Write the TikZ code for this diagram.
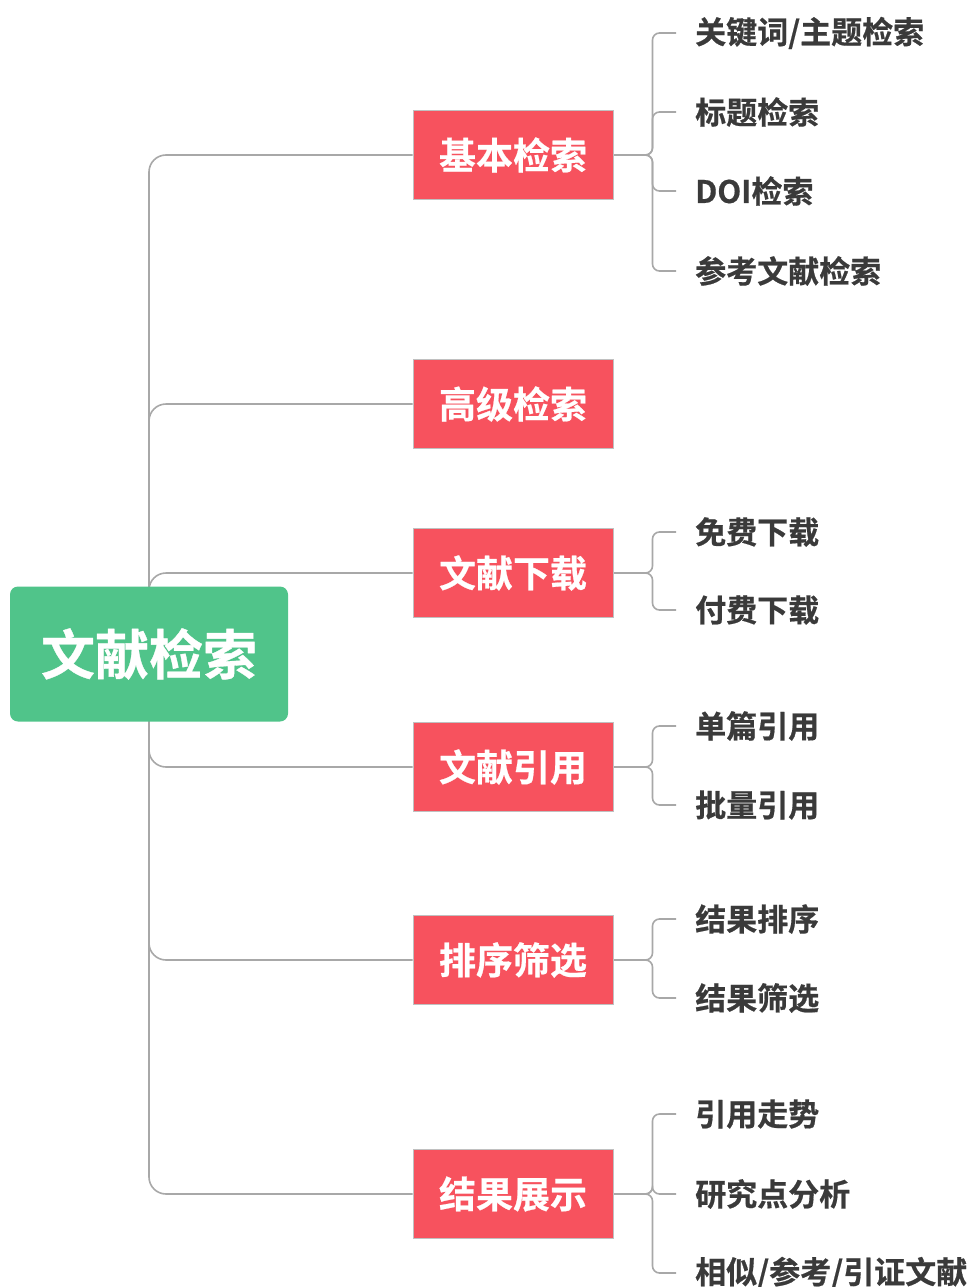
\documentclass[tikz,border=0pt]{standalone}
\usepackage{fontspec}
\newfontfamily\cjk{Noto Sans CJK SC}[BoldFont={Noto Sans CJK SC Bold},BoldFeatures={FakeBold=0.6}]
\usetikzlibrary{backgrounds}
\definecolor{rootgreen}{HTML}{50C48A}
\definecolor{boxred}{HTML}{F7525E}
\definecolor{linegray}{HTML}{A8A8A8}
\definecolor{leaftext}{HTML}{3A3A3A}
\definecolor{boxedge}{HTML}{C0C0C0}
\tikzset{
  rootbox/.style={fill=rootgreen, rounded corners=8pt, minimum width=278pt, minimum height=135pt,
    text=white, font=\cjk\bfseries\fontsize{54}{60}\selectfont, inner sep=0pt},
  redbox/.style={fill=boxred, draw=boxedge, line width=1pt, minimum width=200pt, minimum height=89pt,
    text=white, font=\cjk\bfseries\fontsize{37}{42}\selectfont, inner sep=0pt},
  leaf/.style={anchor=west, text=leaftext, font=\cjk\bfseries\fontsize{31}{35}\selectfont, inner sep=0pt},
  trunkline/.style={draw=linegray, line width=1.6pt, rounded corners=17pt},
  brline/.style={draw=linegray, line width=1.6pt, rounded corners=7pt},
}
\begin{document}
\begin{tikzpicture}[x=1pt,y=-1pt]
\useasboundingbox (0,0) rectangle (979,1287);
\node[rootbox] (root) at (149,654) {文献检索};
\node[redbox] (b1) at (513,155) {基本检索};
\node[redbox] (b2) at (513,404) {高级检索};
\node[redbox] (b3) at (513,573) {文献下载};
\node[redbox] (b4) at (513,767) {文献引用};
\node[redbox] (b5) at (513,960) {排序筛选};
\node[redbox] (b6) at (513,1194) {结果展示};
\node[leaf] (l11) at (695,33) {关键词/主题检索};
\node[leaf] (l12) at (695,112) {标题检索};
\node[leaf] (l13) at (695,191) {DOI检索};
\node[leaf] (l14) at (695,271) {参考文献检索};
\node[leaf] (l31) at (695,532) {免费下载};
\node[leaf] (l32) at (695,610) {付费下载};
\node[leaf] (l41) at (695,726) {单篇引用};
\node[leaf] (l42) at (695,805) {批量引用};
\node[leaf] (l51) at (695,919) {结果排序};
\node[leaf] (l52) at (695,998) {结果筛选};
\node[leaf] (l61) at (695,1114) {引用走势};
\node[leaf] (l62) at (695,1194) {研究点分析};
\node[leaf] (l63) at (695,1273) {相似/参考/引证文献};
\begin{scope}[on background layer]
\foreach \b in {b1,b2,b3,b4,b5,b6}
  \draw[trunkline] (root.center) |- (\b.west);
\foreach \b/\l in {b1/l11,b1/l12,b1/l13,b1/l14,b3/l31,b3/l32,b4/l41,b4/l42,b5/l51,b5/l52,b6/l61,b6/l62,b6/l63}
  \draw[brline] (\b.east) -- ++(39pt,0) |- ([xshift=-19pt]\l.west);
\end{scope}
\end{tikzpicture}
\end{document}
